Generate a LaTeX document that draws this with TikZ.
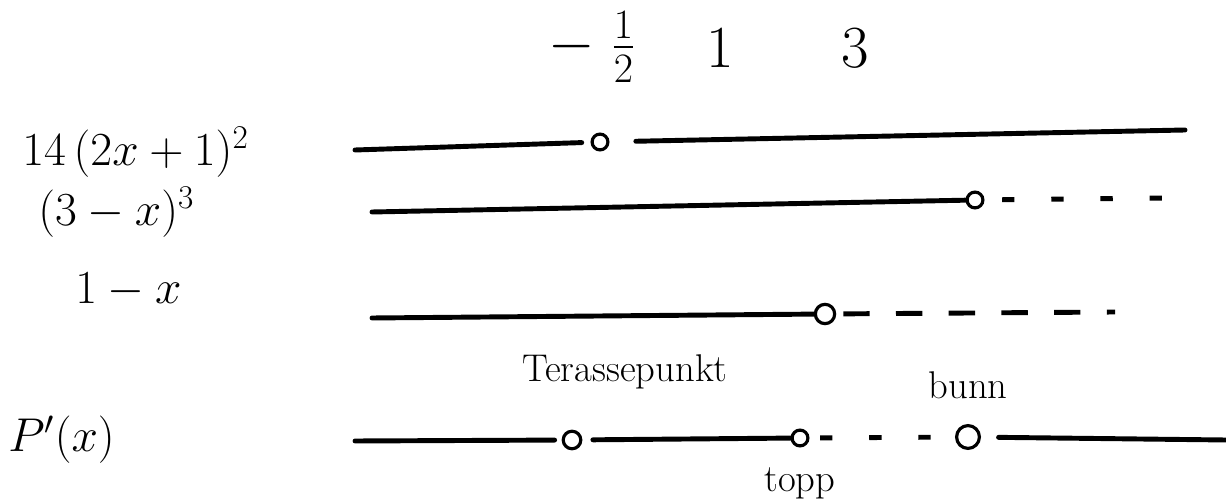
\RequirePackage{fix-cm}
\documentclass[tikz,border=0pt]{standalone}
\usepackage{amsmath}
\usetikzlibrary{positioning}
\tikzset{
  signline/.style={line width=2.8pt,line cap=round},
  negdots/.style={line width=2.8pt,dash pattern=on 7pt off 21pt},
  negdash/.style={line width=2.8pt,dash pattern=on 15pt off 15pt},
  zerodot/.style={circle,draw,line width=1.8pt,inner sep=0pt,minimum size=9pt,fill=white},
  valtext/.style={font=\fontsize{34}{40}\selectfont,inner sep=0pt},
  factortext/.style={font=\fontsize{27}{32}\selectfont,inner sep=0pt,anchor=west},
  notetext/.style={font=\fontsize{22}{26}\selectfont,inner sep=0pt}
}
\begin{document}
\begin{tikzpicture}[x=0.02cm,y=-0.02cm]
\useasboundingbox (0,0) rectangle (1226,502);
% nullpunkter
\node[valtext] (vhalf) at (592,47) {$-\;\tfrac{1}{2}$};
\node[valtext] (vone) at (720,48) {$1$};
\node[valtext] (vthree) at (855,48) {$3$};
% faktorer
\node[factortext] (f1) at (22,152) {$14\,(2x+1)^2$};
\node[factortext] (f2) at (38,212) {$(3-x)^3$};
\node[factortext] (f3) at (75,290) {$1-x$};
\node[factortext] (f4) at (8,440) {$P'(x)$};
% rad 1
\coordinate (r1a) at (355,150);
\node[zerodot] (z1) at (600,142) {};
\coordinate (r1b) at (1185,130);
\draw[signline,shorten >=5pt] (r1a) -- (z1);
\draw[signline,shorten <=15pt] (z1) -- (r1b);
% rad 2
\coordinate (r2a) at (372,212);
\node[zerodot] (z2) at (975,200) {};
\coordinate (r2b) at (1170,198);
\draw[signline] (r2a) -- (z2);
\draw[negdots,dash phase=-10pt] (z2) -- (r2b);
% rad 3
\coordinate (r3a) at (372,318);
\node[zerodot,minimum size=11pt] (z3) at (825,314) {};
\coordinate (r3b) at (1115,312);
\draw[signline] (r3a) -- (z3);
\draw[negdash,dash phase=-4pt] (z3) -- (r3b);
% P'(x)
\coordinate (r4a) at (355,441);
\node[zerodot,minimum size=10pt] (zA) at (572,440) {};
\node[zerodot,minimum size=9pt] (zB) at (800,438) {};
\node[zerodot,minimum size=13pt] (zC) at (968,437) {};
\coordinate (r4b) at (1226,440);
\draw[signline,shorten >=4pt] (r4a) -- (zA);
\draw[signline,shorten <=6pt] (zA) -- (zB);
\draw[negdots,dash phase=-6pt] (zB) -- (zC);
\draw[signline,shorten <=10pt] (zC) -- (r4b);
\node[notetext] (terr) at (625,372) {Terassepunkt};
\node[notetext,above=0.5cm of zC] (bunn) {bunn};
\node[notetext,below=0.4cm of zB] (topp) {topp};
\end{tikzpicture}
\end{document}
